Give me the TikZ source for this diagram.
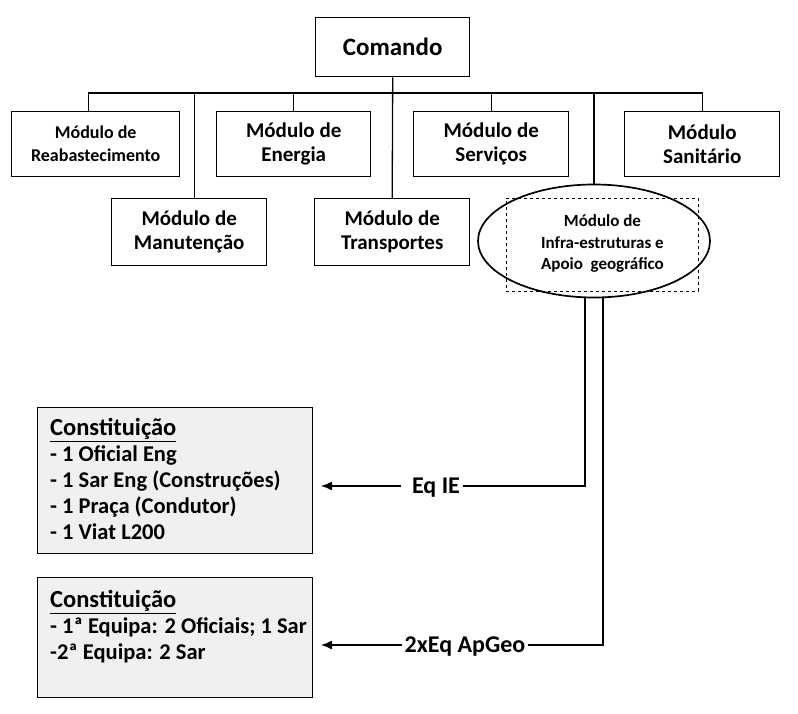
\documentclass[tikz,border=0pt]{standalone}
\usepackage{fontspec}
\setmainfont{Carlito}
\usetikzlibrary{arrows.meta,shapes.geometric}
\newcommand{\heading}[1]{{\fontsize{24.5}{26}\selectfont\underline{#1}}}
\begin{document}
\begin{tikzpicture}[x=1pt,y=-1pt,
  mbox/.style={draw, line width=1.4pt, align=center, inner sep=0pt, anchor=north west, font=\bfseries\fontsize{21}{24}\selectfont},
  conn/.style={line width=1.3pt},
  lowbox/.style={draw, line width=1.1pt, fill=black!6, anchor=north west, inner sep=0pt},
  lowtxt/.style={anchor=north west, align=left, inner sep=0pt, font=\bfseries\fontsize{22.5}{26}\selectfont},
  lab/.style={inner xsep=3pt, inner ysep=0pt, text depth=0pt, font=\bfseries\fontsize{24}{26}\selectfont},
  arr/.style={line width=1.3pt, -{Latex[length=11pt,width=9pt]}}]
\useasboundingbox (0,0) rectangle (798,714);
\fill[white] (0,0) rectangle (798,714);

\node[mbox, minimum width=154, minimum height=59, font=\bfseries\fontsize{25}{28}\selectfont] (cmd) at (315,17) {Comando};
\node[mbox, minimum width=168, minimum height=65, font=\bfseries\fontsize{18}{23}\selectfont] (reab) at (11,111) {Módulo de\\Reabastecimento};
\node[mbox, minimum width=154, minimum height=65] (energ) at (216,111) {Módulo de\\Energia};
\node[mbox, minimum width=155, minimum height=65] (serv) at (413,111) {Módulo de\\Serviços};
\node[mbox, minimum width=155, minimum height=65] (sanit) at (624,111) {Módulo\\Sanitário};
\node[mbox, minimum width=155, minimum height=67] (manut) at (111,198) {Módulo de\\Manutenção};
\node[mbox, minimum width=155, minimum height=67] (trans) at (314,198) {Módulo de\\Transportes};
\node[draw, dashed, line width=0.9pt, minimum width=192, minimum height=93, anchor=north west, inner sep=0pt] (infrect) at (506,198) {};
\node[draw, ellipse, line width=1.7pt, minimum width=232, minimum height=113, inner sep=0pt] (infell) at (594,241) {};
\node[align=center, font=\bfseries\fontsize{17}{21.5}\selectfont, inner sep=0pt] (inftxt) at ([yshift=1pt]infrect.center) {Módulo de\\Infra-estruturas e\\Apoio\ \ geográfico};

\coordinate (busy) at (0,93);
\draw[conn] ([xshift=-7pt]reab.north) |- (sanit.north |- busy) -- (sanit.north);
\draw[conn] (cmd.south) -- (trans.north);
\draw[conn] (energ.north) -- (energ.north |- busy);
\draw[conn] (serv.north) -- (serv.north |- busy);
\draw[conn] ([xshift=5pt]manut.north) -- ([xshift=5pt]manut.north |- busy);
\draw[conn] (infell.north) -- (infell.north |- busy);

\node[lowbox, minimum width=275, minimum height=146] (box1) at (37,407) {};
\node[lowtxt] (txt1) at (50,418) {\heading{Constituição}\\- 1 Oficial Eng\\- 1 Sar Eng (Construções)\\- 1 Praça (Condutor)\\- 1 Viat L200};
\node[lowbox, minimum width=275, minimum height=120] (box2) at (37,577) {};
\node[lowtxt] (txt2) at (50,590) {\heading{Constituição}\\- 1ª Equipa: 2 Oficiais; 1 Sar\\-2ª Equipa: 2 Sar};

\node[lab] (eqie) at (436,486) {Eq IE};
\node[lab] (apgeo) at (465,645) {2xEq ApGeo};
\coordinate (tip1) at (321,486);
\coordinate (tip2) at (321,645);
\draw[arr, shorten <=8pt] (eqie.west) -- (tip1);
\draw[arr] (apgeo.west) -- (tip2);
\draw[conn] ([xshift=-9pt]infell.south) |- (eqie.east);
\draw[conn] ([xshift=9pt]infell.south) |- (apgeo.east);
\end{tikzpicture}
\end{document}
